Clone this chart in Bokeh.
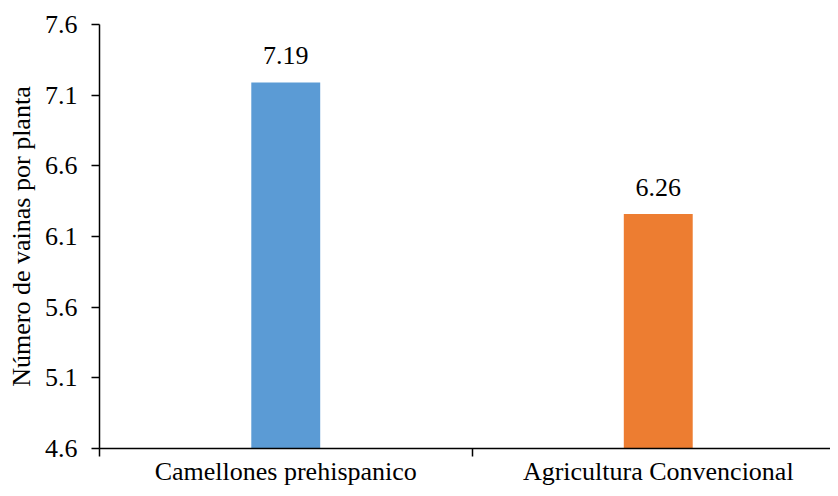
from bokeh.plotting import figure
from bokeh.models import ColumnDataSource, Range1d, FixedTicker, LabelSet, PrintfTickFormatter
from bokeh.core.properties import value
from bokeh.embed import file_html
from bokeh.resources import INLINE

categories = ["Camellones prehispanico", "Agricultura Convencional"]
values = [7.19, 6.26]
colors = ["#5B9BD5", "#ED7D31"]
value_labels = ["7.19", "6.26"]
y_ticks = [4.6, 5.1, 5.6, 6.1, 6.6, 7.1, 7.6]

FONT = "Liberation Serif"

xpos = [i + 0.5 for i in range(len(categories))]
src = ColumnDataSource(dict(x=xpos, top=values, color=colors, lab=value_labels))

p = figure(width=830, height=488, output_backend="svg", toolbar_location=None,
           x_range=Range1d(0, 1.9624), y_range=Range1d(4.6, 7.6),
           min_border_left=99, min_border_right=0, min_border_top=24, min_border_bottom=35)
p.outline_line_color = None
p.grid.grid_line_color = None

p.vbar(x="x", top="top", bottom=4.6, width=0.185, color="color", source=src, line_color=None)

labels = LabelSet(x="x", y="top", text="lab", source=src, y_offset=18,
                  text_align="center", text_baseline="bottom",
                  text_font=value(FONT), text_font_size=value("26px"), text_color="black")
p.add_layout(labels)

xa = p.xaxis[0]
xa.ticker = FixedTicker(ticks=xpos, minor_ticks=[0, 1, 2])
xa.major_label_overrides = {xpos[i]: categories[i] for i in range(len(categories))}
xa.major_tick_out = 0
xa.major_tick_in = 0
xa.minor_tick_out = 8
xa.minor_tick_in = 0
xa.minor_tick_line_color = "black"
xa.minor_tick_line_width = 1.5
xa.major_label_standoff = 0
xa.major_label_text_font = FONT
xa.major_label_text_font_size = "26px"
xa.major_label_text_color = "black"
xa.axis_line_color = "black"
xa.axis_line_width = 1.5

ya = p.yaxis[0]
ya.ticker = FixedTicker(ticks=y_ticks, minor_ticks=[])
ya.formatter = PrintfTickFormatter(format="%.1f")
ya.major_tick_out = 8
ya.major_tick_in = 0
ya.major_tick_line_color = "black"
ya.major_tick_line_width = 1.5
ya.major_label_standoff = 14
ya.major_label_text_font = FONT
ya.major_label_text_font_size = "26px"
ya.major_label_text_color = "black"
ya.axis_line_color = "black"
ya.axis_line_width = 1.5
ya.axis_label = "Número de vainas por planta"
ya.axis_label_text_font = FONT
ya.axis_label_text_font_size = "26px"
ya.axis_label_text_font_style = "normal"
ya.axis_label_text_color = "black"
ya.axis_label_standoff = 6

open("out.html", "w").write(file_html(p, INLINE))
